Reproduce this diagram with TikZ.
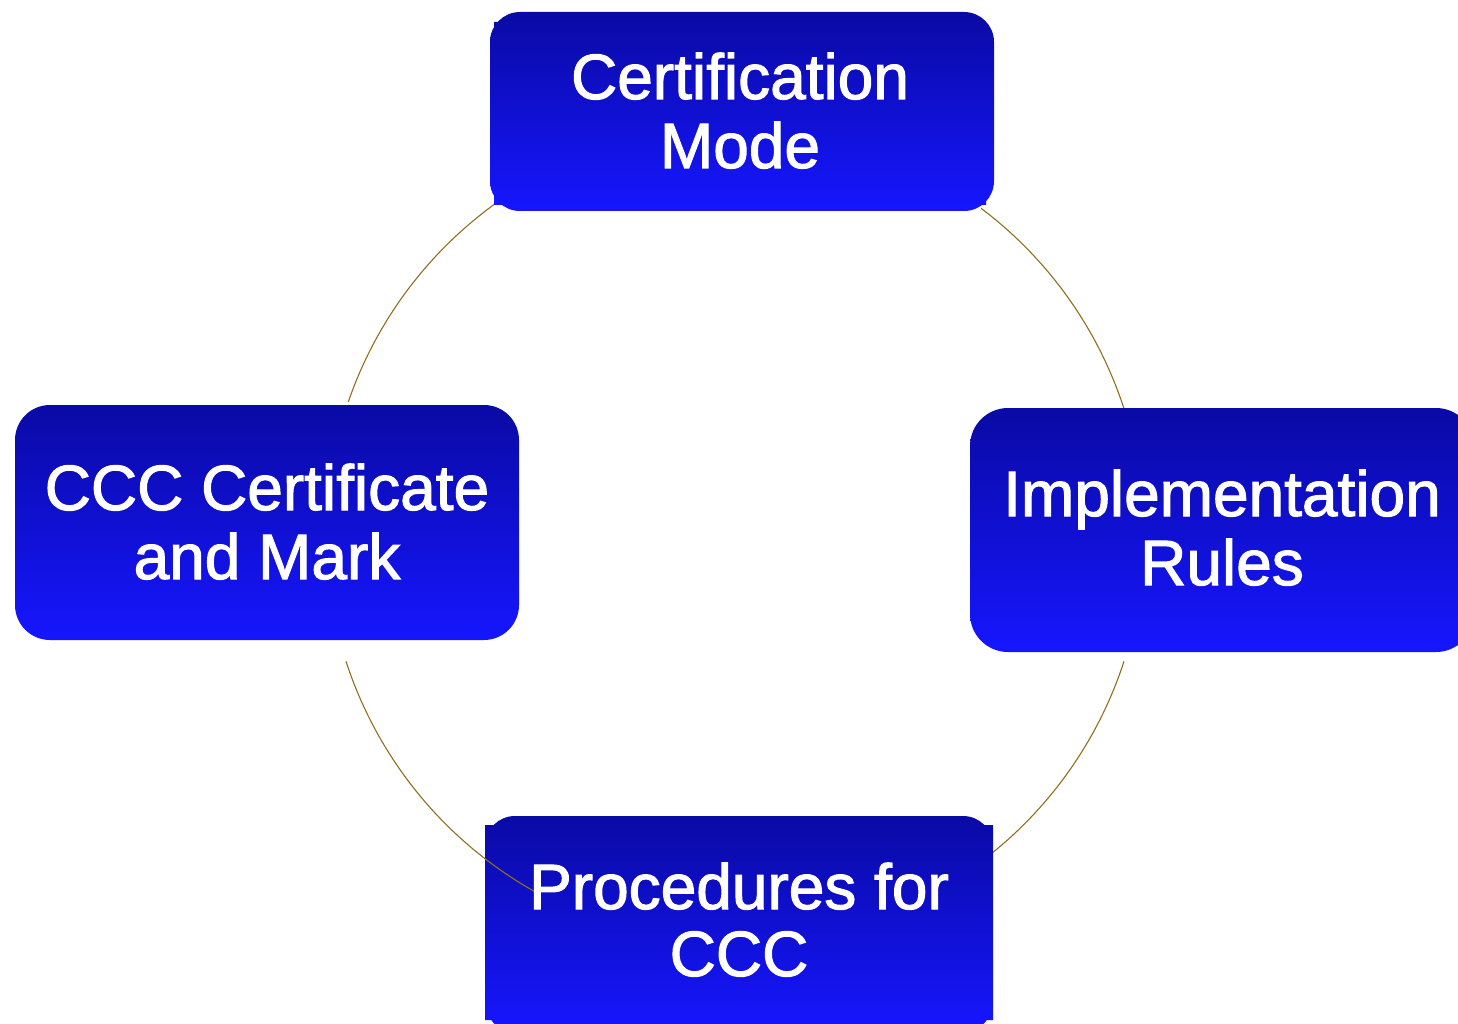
\documentclass[tikz,border=0pt]{standalone}
\usepackage{fontspec}
\setmainfont{Liberation Sans}
\definecolor{boxtop}{RGB}{10,10,165}
\definecolor{boxbot}{RGB}{22,22,255}
\definecolor{arccol}{RGB}{145,110,30}
\tikzset{
  boxshade/.style={top color=boxtop, bottom color=boxbot, draw=none},
  lbl/.style={anchor=base, inner sep=0pt, text=white, font=\fontsize{64}{69}\selectfont,
    execute at begin node={\special{pdf:literal direct 2 Tr 1 1 1 RG 1.1 w}},
    execute at end node={\special{pdf:literal direct 0 Tr}}},
  arcline/.style={draw=arccol, line width=1.1pt}
}
\begin{document}
\begin{tikzpicture}[x=1pt,y=-1pt]
\useasboundingbox (0,0) rectangle (1458,1024);
\coordinate (c) at (735,535);
% arcs behind boxes
\draw[arcline] plot[domain=234:199,samples=60,smooth] ({735+409*cos(\x)},{535+409*sin(\x)});
\draw[arcline] plot[domain=307:342,samples=60,smooth] ({735+409*cos(\x)},{535+409*sin(\x)});
\draw[arcline] plot[domain=18:51,samples=60,smooth] ({735+409*cos(\x)},{535+409*sin(\x)});
% boxes
\shade[boxshade] (490,12) [rounded corners=30pt] rectangle (994,211) [sharp corners] (494,22) rectangle (986,205);
\shade[boxshade] (15,405) [rounded corners=35pt] rectangle (519,640);
\shade[boxshade] (970,408) [rounded corners=38pt] rectangle (1474,652);
\shade[boxshade] (485,816) [rounded corners=30pt] rectangle (993,1032) [sharp corners] (485,825) rectangle (993,1020);
% arc over bottom box
\draw[arcline] plot[domain=162:119,samples=60,smooth] ({735+409*cos(\x)},{535+409*sin(\x)});
% labels
\node[lbl] (t1) at (740,99) {Certification};
\node[lbl] (t2) at (740,168) {Mode};
\node[lbl] (l1) at (267,510) {CCC Certificate};
\node[lbl] (l2) at (267,579) {and Mark};
\node[lbl] (r1) at (1222,516) {Implementation};
\node[lbl] (r2) at (1222,585) {Rules};
\node[lbl] (b1) at (739,909) {Procedures for};
\node[lbl] (b2) at (739,976) {CCC};
\end{tikzpicture}
\end{document}
